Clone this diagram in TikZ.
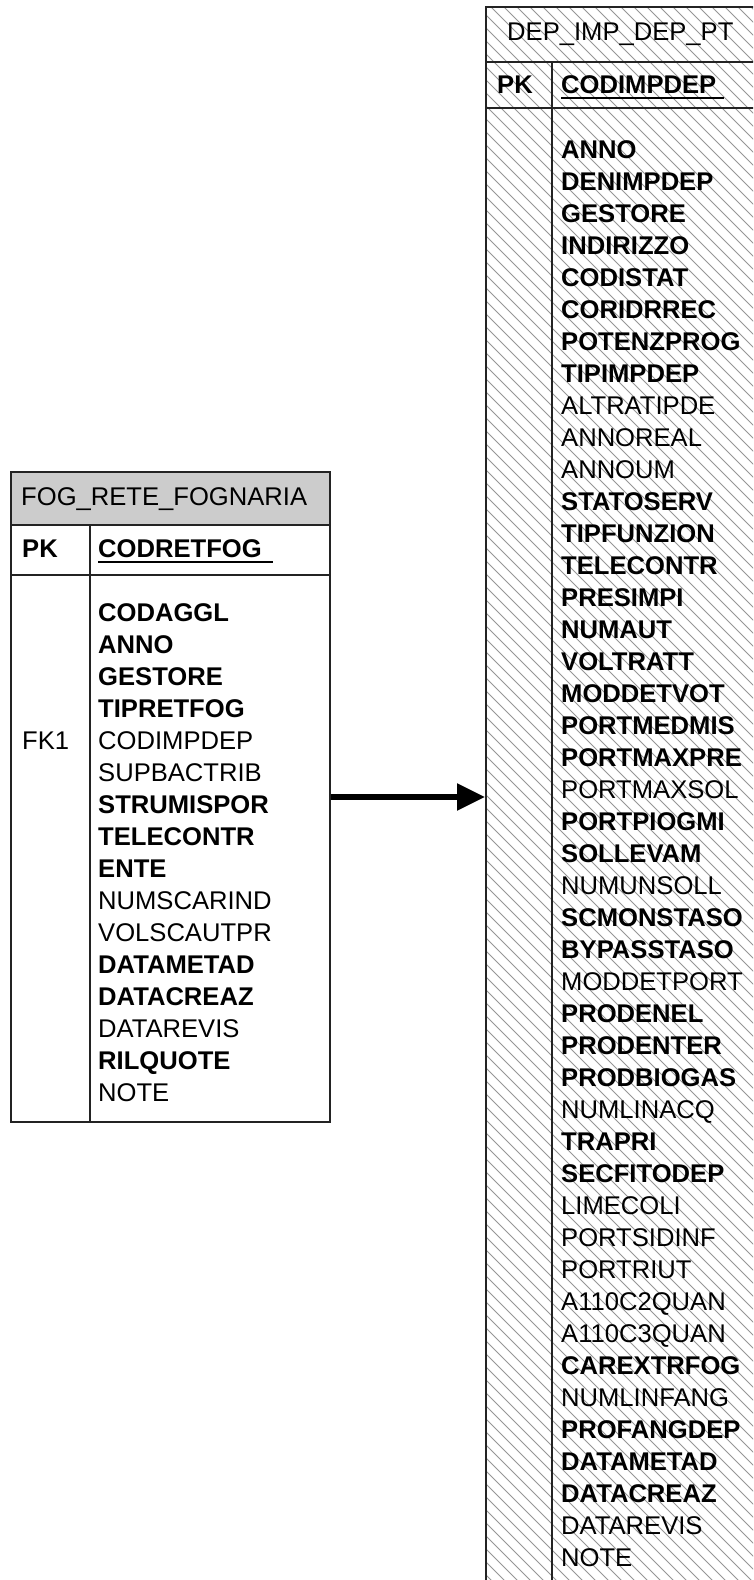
\documentclass[tikz,border=0pt]{standalone}
\usepackage{fontspec}
\setmainfont{Liberation Sans}
\usetikzlibrary{arrows.meta}
\definecolor{hdrgray}{RGB}{204,204,204}
\definecolor{hatchgray}{RGB}{150,150,150}
\definecolor{bord}{RGB}{35,35,35}
\begin{document}
\begin{tikzpicture}[x=1pt,y=-1pt,
  txt/.style={inner sep=0pt, anchor=base west, font=\fontsize{25.6}{30}\selectfont},
  fn/.style={txt},
  fb/.style={txt, font=\fontsize{25.6}{30}\selectfont\bfseries},
  tbl/.style={draw=bord, line width=2pt, inner sep=0pt, anchor=north west},
  rule/.style={draw=bord, line width=2pt},
  keyline/.style={line width=2.5pt, black},
  hatchline/.style={draw=hatchgray, line width=1pt},
  conn/.style={line width=5.5pt, black, -{Triangle[length=28pt,width=26pt]}},
]
\useasboundingbox (0,0) rectangle (753,1580);
\begin{scope}
\clip (0,0) rectangle (753,1580);
% ---------- left table: FOG_RETE_FOGNARIA ----------
\fill[white] (10,471) rectangle (329,1121);
\fill[hdrgray] (10,471) rectangle (329,525);
\draw[rule] (10,525) -- (329,525);
\draw[rule] (10,575) -- (329,575);
\draw[rule] (90,525) -- (90,1121);
\node[tbl, minimum width=319pt, minimum height=650pt] (fog) at (10,471) {};
\node[fn] (fogtitle) at (21,505) {FOG\_RETE\_FOGNARIA};
\node[fb] (fogpk) at (22,557) {PK};
\node[fb] (fogkey) at (98,557) {CODRETFOG};
\draw[keyline] (98,562) -- (273,562);
\node[fn] (fogfk) at (22,749) {FK1};
\foreach \t/\w [count=\i] in {CODAGGL/b, ANNO/b, GESTORE/b, TIPRETFOG/b, CODIMPDEP/n, SUPBACTRIB/n, STRUMISPOR/b, TELECONTR/b, ENTE/b, NUMSCARIND/n, VOLSCAUTPR/n, DATAMETAD/b, DATACREAZ/b, DATAREVIS/n, RILQUOTE/b, NOTE/n}
  \node[f\w] (l\i) at (98,{621+32*(\i-1)}) {\t};
% ---------- right table: DEP_IMP_DEP_PT ----------
\begin{scope}
\clip (485,6) rectangle (760,1600);
\fill[white] (485,6) rectangle (760,1600);
\foreach \k in {0,...,146}
  \draw[hatchline] ({-1115+13*\k},0) -- ++(1700,1700);
\end{scope}
\draw[rule] (485,62) -- (760,62);
\draw[rule] (485,108) -- (760,108);
\draw[rule] (552,62) -- (552,1600);
\node[tbl, minimum width=275pt, minimum height=1594pt] (dep) at (485,6) {};
\node[fn] (deptitle) at (507,40) {DEP\_IMP\_DEP\_PT};
\node[fb] (deppk) at (497,93) {PK};
\node[fb] (depkey) at (561,93) {CODIMPDEP};
\draw[keyline] (561,98) -- (724,98);
\foreach \t/\w [count=\i] in {ANNO/b, DENIMPDEP/b, GESTORE/b, INDIRIZZO/b, CODISTAT/b, CORIDRREC/b, POTENZPROG/b, TIPIMPDEP/b, ALTRATIPDE/n, ANNOREAL/n, ANNOUM/n, STATOSERV/b, TIPFUNZION/b, TELECONTR/b, PRESIMPI/b, NUMAUT/b, VOLTRATT/b, MODDETVOT/b, PORTMEDMIS/b, PORTMAXPRE/b, PORTMAXSOL/n, PORTPIOGMI/b, SOLLEVAM/b, NUMUNSOLL/n, SCMONSTASO/b, BYPASSTASO/b, MODDETPORT/n, PRODENEL/b, PRODENTER/b, PRODBIOGAS/b, NUMLINACQ/n, TRAPRI/b, SECFITODEP/b, LIMECOLI/n, PORTSIDINF/n, PORTRIUT/n, A110C2QUAN/n, A110C3QUAN/n, CAREXTRFOG/b, NUMLINFANG/n, PROFANGDEP/b, DATAMETAD/b, DATACREAZ/b, DATAREVIS/n, NOTE/n}
  \node[f\w] (r\i) at (561,{158+32*(\i-1)}) {\t};
% ---------- connector ----------
\draw[conn] (fog.east) -- (dep.west |- fog.east);
\end{scope}
\end{tikzpicture}
\end{document}
